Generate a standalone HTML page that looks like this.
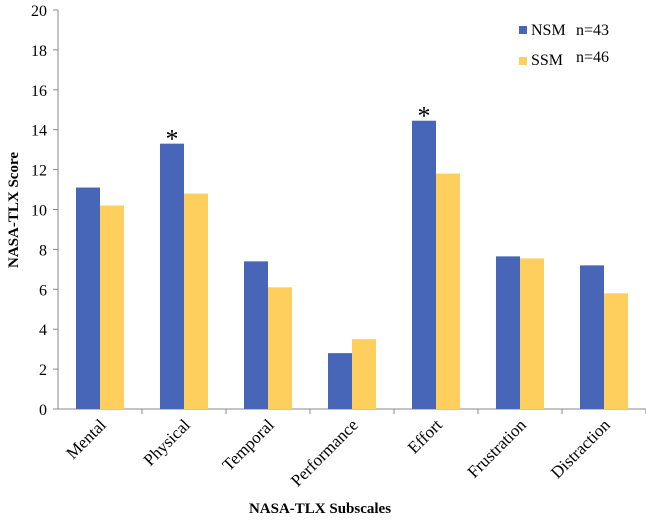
<!DOCTYPE html>
<html><head><meta charset="utf-8"><style>
body{margin:0;background:#fff;}
svg, svg text{font-family:"Liberation Serif","Times New Roman",serif !important;}
</style></head><body>
<svg width="646" height="519" font-family="Liberation Serif, serif">
<g id="axes"></g><g id="bars"></g>
<text x="320" y="513" text-anchor="middle" font-size="15" font-weight="bold">NASA-TLX Subscales</text>
<text transform="translate(18,210) rotate(-90)" text-anchor="middle" font-size="15" font-weight="bold">NASA-TLX Score</text>
<g>
<rect x="519" y="26" width="8" height="8" fill="#4766b8"/>
<text x="531" y="35" font-size="16">NSM</text>
<text x="576" y="35" font-size="16">n=43</text>
<rect x="519" y="57" width="8" height="8" fill="#fecf5c"/>
<text x="531" y="65" font-size="16">SSM</text>
<text x="576" y="62" font-size="16">n=46</text>
</g>
</svg>
<script>
const categories=["Mental","Physical","Temporal","Performance","Effort","Frustration","Distraction"];
const nsm=[11.1,13.3,7.4,2.8,14.45,7.65,7.2];
const ssm=[10.2,10.8,6.1,3.5,11.8,7.55,5.8];
const yTicks=[0,2,4,6,8,10,12,14,16,18,20];
const stars=[false,true,false,false,true,false,false];
const NS="http://www.w3.org/2000/svg";
const x0=58,y0=409,yTop=10,step=84;
const y=v=>y0-(y0-yTop)*v/20;
const xc=i=>x0+step*i+step/2;
function mk(t,a,p){const e=document.createElementNS(NS,t);for(const k in a)e.setAttribute(k,a[k]);p.appendChild(e);return e;}
const ax=document.getElementById('axes'),bg=document.getElementById('bars');
const yl=mk('line',{x1:x0,y1:y(20),x2:x0,y2:y0,stroke:'#888'},ax);


const xl=mk('line',{x1:x0,y1:y0,x2:x0+step*categories.length,y2:y0,stroke:'#888'},ax);


yTicks.forEach(v=>{
 mk('line',{x1:x0-5,y1:y(v),x2:x0,y2:y(v),stroke:'#888'},ax);
 const t=mk('text',{x:47,y:y(v)+6,'text-anchor':'end','font-size':16},ax);t.textContent=v;
 
 
});
categories.forEach((c,i)=>{
 mk('line',{x1:x0+step*(i+1),y1:y0,x2:x0+step*(i+1),y2:y0+5,stroke:'#888'},ax);
 const cx=xc(i);
 const b1=mk('rect',{x:cx-24,y:y(nsm[i]),width:24,height:y0-y(nsm[i]),fill:'#4766b8'},bg);
 
 
 const b2=mk('rect',{x:cx,y:y(ssm[i]),width:24,height:y0-y(ssm[i]),fill:'#fecf5c'},bg);
 
 
 const t=mk('text',{transform:`translate(${cx+7},${y0+17}) rotate(-45)`,'text-anchor':'end','font-size':17},ax);t.textContent=c;
 
 
 if(stars[i]){const s=mk('text',{x:cx-12,y:y(nsm[i])+4,'text-anchor':'middle','font-size':26},bg);s.textContent='*';
 
 }
});
</script>
</body></html>
